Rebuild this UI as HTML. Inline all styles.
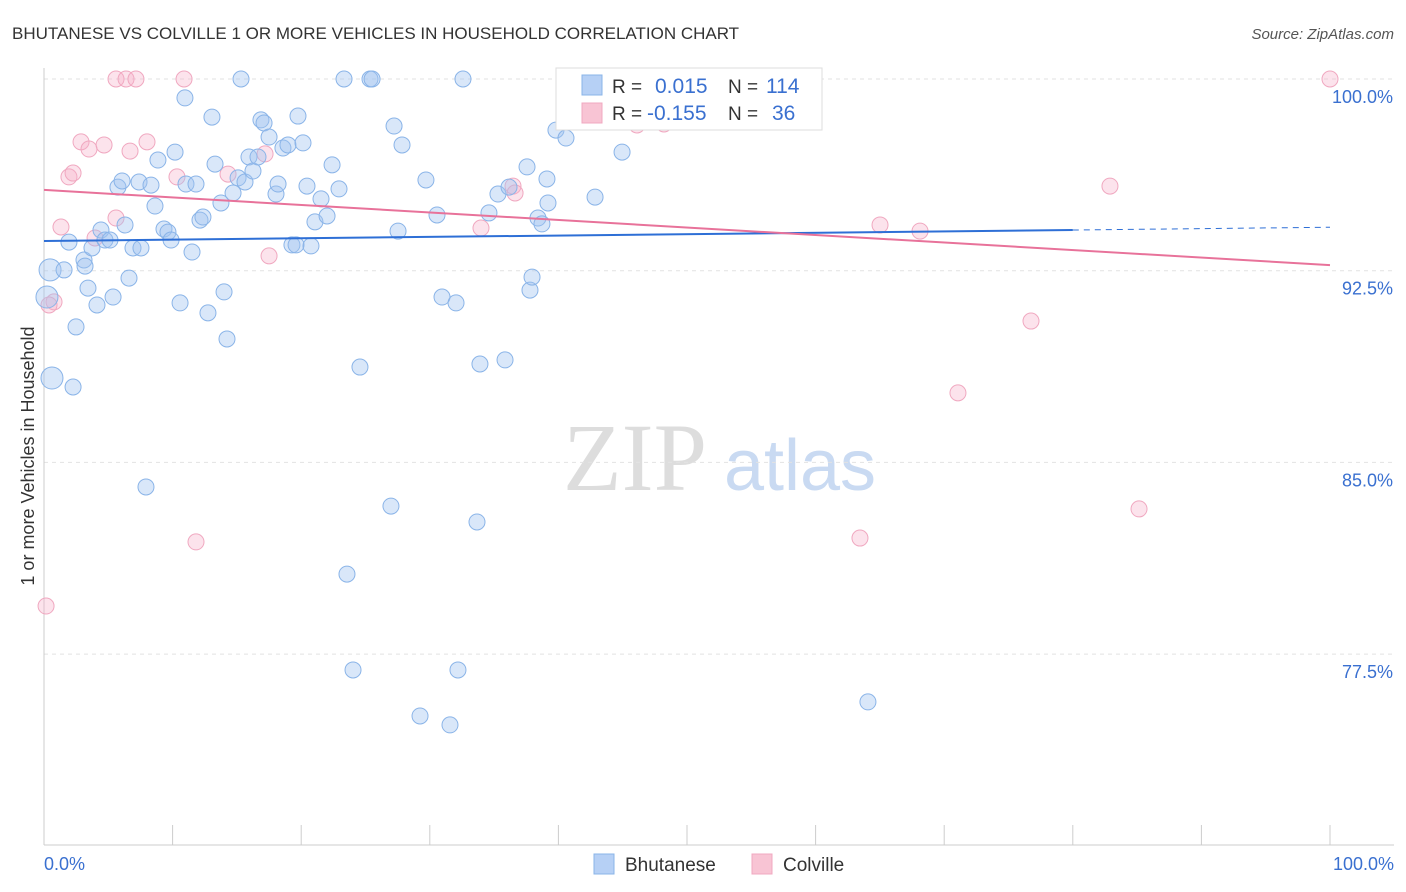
<!DOCTYPE html>
<html><head><meta charset="utf-8"><style>
body{margin:0;background:#fff;font-family:"Liberation Sans",sans-serif;}
svg{display:block}
</style></head><body>
<svg id="chart" width="1406" height="892" viewBox="0 0 1406 892">
<text x="12" y="39" font-size="17" fill="#333">BHUTANESE VS COLVILLE 1 OR MORE VEHICLES IN HOUSEHOLD CORRELATION CHART</text>
<text x="1394" y="39" font-size="15" fill="#555" text-anchor="end" font-style="italic">Source: ZipAtlas.com</text>
<g>
<text x="635" y="490" font-size="96" fill="#ddd" font-family="Liberation Serif,serif" text-anchor="middle">ZIP</text>
<text x="800" y="490" font-size="72" fill="#c9daf2" text-anchor="middle">atlas</text>
</g>
<g id="grid"></g>
<g id="axes"></g>
<g id="marks"></g>
<g>
<rect x="556" y="68" width="266" height="62" fill="#fff" stroke="#ddd"/>
<rect x="582" y="75" width="20" height="20" fill="#b6d0f5" stroke="#8ab4e8"/>
<rect x="582" y="103" width="20" height="20" fill="#f8c4d4" stroke="#f0a8c0"/>
<text x="612" y="93" font-size="19" fill="#333">R =</text>
<text x="655" y="93" font-size="21" fill="#3a70d0">0.015</text>
<text x="728" y="93" font-size="19" fill="#333">N =</text>
<text x="766" y="93" font-size="21" fill="#3a70d0">114</text>
<text x="612" y="120" font-size="19" fill="#333">R =</text>
<text x="647" y="120" font-size="21" fill="#3a70d0">-0.155</text>
<text x="728" y="120" font-size="19" fill="#333">N =</text>
<text x="772" y="120" font-size="21" fill="#3a70d0">36</text>
</g>
<g>
<rect x="594" y="854" width="20" height="20" fill="#b6d0f5" stroke="#8ab4e8"/>
<text x="625" y="871" font-size="19" fill="#333">Bhutanese</text>
<rect x="752" y="854" width="20" height="20" fill="#f8c4d4" stroke="#f0a8c0"/>
<text x="783" y="871" font-size="19" fill="#333">Colville</text>
</g>
<text transform="translate(34,456) rotate(-90)" font-size="18" fill="#333" text-anchor="middle">1 or more Vehicles in Household</text>
</svg>
<script>
const yTicks=[100,92.5,85,77.5];
const yTickLabels=["100.0%","92.5%","85.0%","77.5%"];
const xTickLabels=["0.0%","100.0%"];
const blueX=[0.47,0.62,0.23,1.56,1.94,2.26,2.49,3.11,3.19,3.42,3.73,4.12,4.43,4.74,5.13,5.37,5.75,6.07,6.30,6.61,6.92,7.39,7.54,7.93,8.32,8.63,8.86,9.33,9.64,9.88,10.19,10.58,10.96,11.04,11.51,11.82,12.13,12.36,12.75,13.06,13.30,13.76,14.00,14.23,14.70,15.09,15.32,15.63,15.94,16.25,16.64,16.87,17.11,17.50,18.04,18.20,18.58,18.97,19.28,19.60,19.75,20.14,20.45,20.76,21.07,21.54,22.01,22.40,22.94,23.33,23.56,24.03,24.57,25.35,25.51,26.98,27.22,27.53,27.84,29.24,29.70,30.56,30.95,31.57,32.04,32.19,32.58,33.67,33.90,34.60,35.30,35.85,36.16,37.56,37.79,37.95,38.41,38.72,39.11,39.19,39.81,40.59,42.85,43.00,44.95,46.03,53.03,59.72,64.07];
const blueY=[92.53,88.30,91.47,92.53,93.62,87.95,90.30,92.92,92.68,91.82,93.39,91.16,94.09,93.70,93.70,91.47,95.77,96.01,94.29,92.21,93.39,95.97,93.39,84.04,95.85,95.03,96.83,94.13,94.01,93.70,97.14,91.24,99.26,95.89,93.23,95.89,94.48,94.60,90.85,98.51,96.67,95.15,91.67,89.83,95.54,96.13,100,95.97,96.95,96.40,96.95,98.40,98.28,97.73,95.50,95.89,97.30,97.42,93.51,93.51,98.55,97.50,95.81,93.47,94.41,95.31,94.64,96.64,95.70,100,80.63,76.88,88.73,100,100,83.29,98.16,94.05,97.42,75.08,96.05,94.68,91.47,74.73,91.24,76.88,100,82.67,88.85,94.76,95.50,89.01,95.77,96.56,91.74,92.25,94.56,94.33,96.09,95.15,98.00,97.69,95.38,100,97.14,100,100,100,75.63];
const pinkX=[0.16,0.78,1.32,1.94,2.26,2.88,3.50,3.97,4.67,5.60,5.60,6.38,6.69,7.15,8.01,10.34,10.89,11.82,14.31,17.19,17.50,33.98,36.47,36.63,40.59,46.11,48.21,63.45,65.01,68.12,71.07,76.75,82.89,85.15,100,0.39];
const pinkY=[79.38,91.28,94.21,96.17,96.32,97.54,97.26,93.78,97.42,100,94.56,100,97.18,100,97.54,96.17,100,81.89,96.28,97.07,93.08,94.17,95.81,95.54,100,98.20,98.24,82.04,94.29,94.05,87.72,90.53,95.81,83.18,100,91.16];
const blueTrend=[93.66,94.2];
const pinkTrend=[95.66,92.72];
const bigBlue=[0,1,2];

const NS="http://www.w3.org/2000/svg";
const X0=44,X1=1330,YT=79,YS=25.56;
const xs=v=>X0+(X1-X0)*v/100;
const ys=v=>YT+(100-v)*YS;
function mk(tag,attrs,parent){const e=document.createElementNS(NS,tag);for(const k in attrs)e.setAttribute(k,attrs[k]);document.getElementById(parent).appendChild(e);return e;}

yTicks.forEach((t,i)=>{
  const g=mk('line',{x1:X0,x2:1394,y1:ys(t),y2:ys(t),stroke:'#e2e2e2','stroke-dasharray':'4,4'},'grid');
  
  
  const l=mk('text',{x:1393,y:ys(t)+24,'font-size':18,fill:'#3a70d0','text-anchor':'end'},'axes');
  l.textContent=yTickLabels[i];
  
  
});
const ax=mk('line',{x1:X0,x2:X0,y1:68,y2:845,stroke:'#ccc'},'axes');


const bx=mk('line',{x1:X0,x2:1394,y1:845,y2:845,stroke:'#ccc'},'axes');


for(let i=0;i<=10;i++){
  const t=mk('line',{x1:xs(i*10),x2:xs(i*10),y1:825,y2:845,stroke:'#ccc'},'axes');
  
  
}
[[0,'start',X0],[100,'end',1394]].forEach((p,i)=>{
  const l=mk('text',{x:p[2],y:870,'font-size':18,fill:'#3a70d0','text-anchor':p[1]},'axes');
  l.textContent=xTickLabels[i];
  
  
});
pinkX.forEach((x,i)=>{
  const c=mk('circle',{cx:xs(x),cy:ys(pinkY[i]),r:8,fill:'rgba(245,175,200,0.35)',stroke:'#f0a8c0','stroke-width':1},'marks');
  
  
});
blueX.forEach((x,i)=>{
  const c=mk('circle',{cx:xs(x),cy:ys(blueY[i]),r:bigBlue.includes(i)?11:8,fill:'rgba(160,196,240,0.4)',stroke:'#8ab4e8','stroke-width':1},'marks');
  
  
});
const bt=v=>blueTrend[0]+(blueTrend[1]-blueTrend[0])*v/100;
const l1=mk('line',{x1:xs(0),y1:ys(bt(0)),x2:xs(80),y2:ys(bt(80)),stroke:'#2e6fd6','stroke-width':2},'marks');


const l2=mk('line',{x1:xs(80),y1:ys(bt(80)),x2:xs(100),y2:ys(bt(100)),stroke:'#2e6fd6','stroke-width':1,'stroke-dasharray':'6,5'},'marks');


const l3=mk('line',{x1:xs(0),y1:ys(pinkTrend[0]),x2:xs(100),y2:ys(pinkTrend[1]),stroke:'#e8729a','stroke-width':2},'marks');


</script>
</body></html>
